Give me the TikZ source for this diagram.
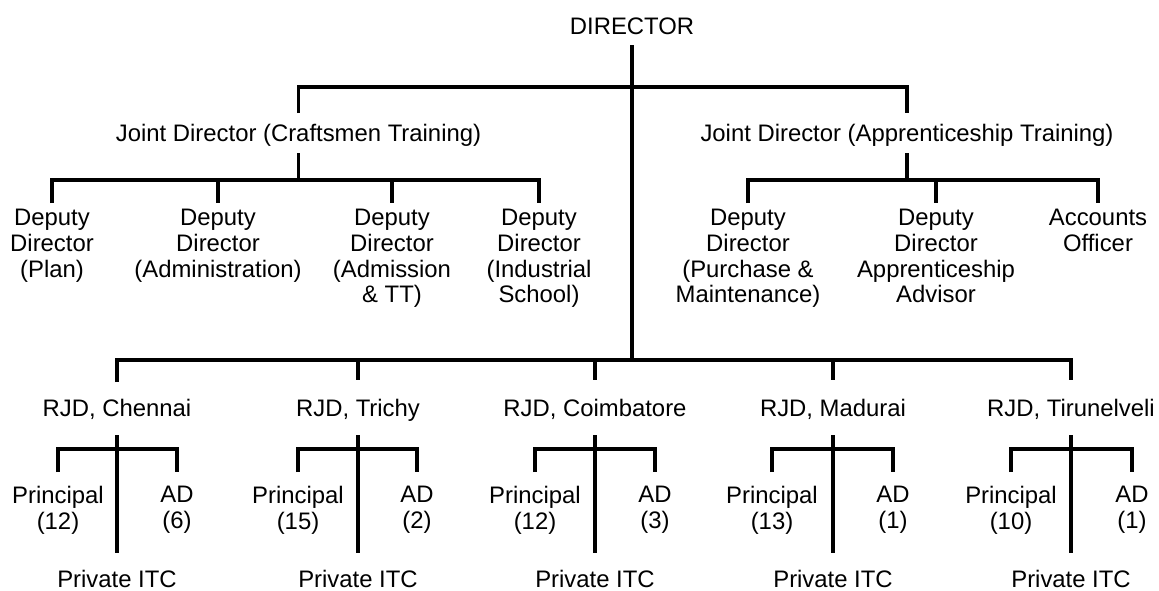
\documentclass[tikz,border=0pt]{standalone}
\usepackage{fontspec}
\setmainfont{Liberation Sans}
\usetikzlibrary{calc}

\tikzset{
  lbl/.style={anchor=base, inner sep=0pt, font=\fontsize{17.9}{19.2}\selectfont},
  mlbl/.style={anchor=north, inner sep=0pt, align=center, font=\fontsize{17.9}{19.2}\selectfont},
}

\begin{document}
\begin{tikzpicture}[x=0.75pt,y=0.75pt,yscale=-1,xscale=1, line width=2.3pt]
\useasboundingbox (0,0) rectangle (1159,590);

% bar levels
\coordinate (topbar) at (0,87);
\coordinate (ctbar) at (0,180);
\coordinate (rgbar) at (0,360);
\coordinate (subbar) at (0,449);

% Text Node
\node[lbl] (dir) at (632,34) {DIRECTOR};
% Text Node
\node[lbl] (jdc) at (298.5,141) {Joint Director (Craftsmen Training)};
% Text Node
\node[lbl] (jda) at (907,141) {Joint Director (Apprenticeship Training)};

% Text Node
\node[mlbl] (dpl) at (52,208) {Deputy\\Director\\(Plan)};
% Text Node
\node[mlbl] (dad) at (218,208) {Deputy\\Director\\(Administration)};
% Text Node
\node[mlbl] (dat) at (392,208) {Deputy\\Director\\(Admission\\\& TT)};
% Text Node
\node[mlbl] (dis) at (539,208) {Deputy\\Director\\(Industrial\\School)};
% Text Node
\node[mlbl] (dpm) at (748,208) {Deputy\\Director\\(Purchase \&\\Maintenance)};
% Text Node
\node[mlbl] (dap) at (936,208) {Deputy\\Director\\Apprenticeship\\Advisor};
% Text Node
\node[mlbl] (acc) at (1098,208) {Accounts\\Officer};

% Text Node
\node[lbl] (rch) at (117,416) {RJD, Chennai};
\node[mlbl] (pch) at (58,485) {Principal\\(12)};
\node[mlbl] (ach) at (177,485) {AD\\(6)};
\node[lbl] (ich) at (117,587) {Private ITC};
% Text Node
\node[lbl] (rtr) at (358,416) {RJD, Trichy};
\node[mlbl] (ptr) at (298,485) {Principal\\(15)};
\node[mlbl] (atr) at (417,485) {AD\\(2)};
\node[lbl] (itr) at (358,587) {Private ITC};
% Text Node
\node[lbl] (rco) at (595,416) {RJD, Coimbatore};
\node[mlbl] (pco) at (535,485) {Principal\\(12)};
\node[mlbl] (aco) at (655,485) {AD\\(3)};
\node[lbl] (ico) at (595,587) {Private ITC};
% Text Node
\node[lbl] (rma) at (833,416) {RJD, Madurai};
\node[mlbl] (pma) at (772,485) {Principal\\(13)};
\node[mlbl] (ama) at (893,485) {AD\\(1)};
\node[lbl] (ima) at (833,587) {Private ITC};
% Text Node
\node[lbl] (rti) at (1071,416) {RJD, Tirunelveli};
\node[mlbl] (pti) at (1011,485) {Principal\\(10)};
\node[mlbl] (ati) at (1132,485) {AD\\(1)};
\node[lbl] (iti) at (1071,587) {Private ITC};

%Straight Lines
\draw ($(dir.base)+(0,11)$) -- (dir |- rgbar);
\draw ($(jdc.base)+(0,-28)$) -- (jdc |- topbar) -- (jda |- topbar) -- ($(jda.base)+(0,-28)$);
\draw ($(jdc.base)+(0,12)$) -- (jdc |- ctbar);
\draw ($(jda.base)+(0,12)$) -- (jda |- ctbar);

%Straight Lines
\draw ($(dpl.north)+(0,-5)$) -- (dpl |- ctbar) -- (dis |- ctbar) -- ($(dis.north)+(0,-5)$);
\draw (dad |- ctbar) -- ($(dad.north)+(0,-5)$);
\draw (dat |- ctbar) -- ($(dat.north)+(0,-5)$);
\draw ($(dpm.north)+(0,-5)$) -- (dpm |- ctbar) -- (acc |- ctbar) -- ($(acc.north)+(0,-5)$);
\draw (dap |- ctbar) -- ($(dap.north)+(0,-5)$);

%Straight Lines
\draw ($(rch.base)+(0,-34)$) -- (rch |- rgbar) -- (rti |- rgbar) -- ($(rti.base)+(0,-36)$);
\draw (rtr |- rgbar) -- ($(rtr.base)+(0,-36)$);
\draw (rco |- rgbar) -- ($(rco.base)+(0,-36)$);
\draw (rma |- rgbar) -- ($(rma.base)+(0,-36)$);

%Straight Lines
\draw ($(rch.base)+(0,19)$) -- ($(ich.base)+(0,-34)$);
\draw ($(pch.north)+(0,-13)$) -- (pch |- subbar) -- (ach |- subbar) -- ($(ach.north)+(0,-13)$);
\draw ($(rtr.base)+(0,19)$) -- ($(itr.base)+(0,-34)$);
\draw ($(ptr.north)+(0,-13)$) -- (ptr |- subbar) -- (atr |- subbar) -- ($(atr.north)+(0,-13)$);
\draw ($(rco.base)+(0,19)$) -- ($(ico.base)+(0,-34)$);
\draw ($(pco.north)+(0,-13)$) -- (pco |- subbar) -- (aco |- subbar) -- ($(aco.north)+(0,-13)$);
\draw ($(rma.base)+(0,19)$) -- ($(ima.base)+(0,-34)$);
\draw ($(pma.north)+(0,-13)$) -- (pma |- subbar) -- (ama |- subbar) -- ($(ama.north)+(0,-13)$);
\draw ($(rti.base)+(0,19)$) -- ($(iti.base)+(0,-34)$);
\draw ($(pti.north)+(0,-13)$) -- (pti |- subbar) -- (ati |- subbar) -- ($(ati.north)+(0,-13)$);

\end{tikzpicture}
\end{document}
